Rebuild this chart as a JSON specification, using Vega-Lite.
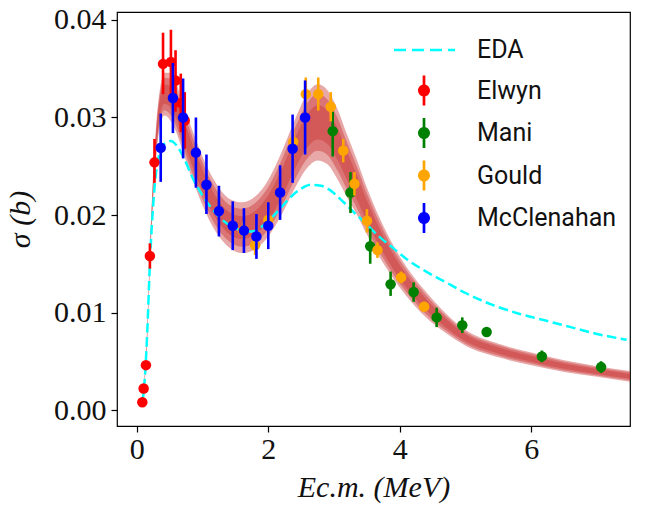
{
  "$schema": "https://vega.github.io/schema/vega-lite/v6.json",
  "width": 513,
  "height": 414,
  "autosize": {"type": "none"},
  "padding": {"left": 117, "top": 12, "right": 18, "bottom": 80},
  "background": "white",
  "config": {
    "view": {"stroke": "black", "strokeWidth": 1.2},
    "axis": {"domain": false, "grid": false, "tickColor": "black", "tickWidth": 1.2, "tickSize": 6, "labelFont": "Liberation Serif", "labelFontSize": 30, "labelColor": "#111", "titleFont": "Liberation Serif", "titleFontSize": 30, "titleFontStyle": "italic", "titleFontWeight": "normal", "titleColor": "#111"},
    "axisX": {"labelPadding": 2, "titlePadding": 8},
    "axisY": {"labelPadding": 5, "titlePadding": 18}
  },
  "datasets": {
    "band": [
      {"x": 0.08, "lo1": 0.0006, "hi1": 0.0011, "lo2": 0.00066, "hi2": 0.00104, "lo3": 0.00074, "hi3": 0.00096},
      {"x": 0.12, "lo1": 0.0026, "hi1": 0.0034, "lo2": 0.0027, "hi2": 0.0033, "lo3": 0.00282, "hi3": 0.00318},
      {"x": 0.16, "lo1": 0.0072, "hi1": 0.0086, "lo2": 0.00738, "hi2": 0.00843, "lo3": 0.00759, "hi3": 0.00822},
      {"x": 0.20, "lo1": 0.0146, "hi1": 0.0164, "lo2": 0.01483, "hi2": 0.01618, "lo3": 0.0151, "hi3": 0.0159},
      {"x": 0.25, "lo1": 0.0215, "hi1": 0.0243, "lo2": 0.02185, "hi2": 0.02395, "lo3": 0.02227, "hi3": 0.02353},
      {"x": 0.30, "lo1": 0.0262, "hi1": 0.0296, "lo2": 0.02663, "hi2": 0.02918, "lo3": 0.02714, "hi3": 0.02867},
      {"x": 0.35, "lo1": 0.0290, "hi1": 0.0328, "lo2": 0.02948, "hi2": 0.03233, "lo3": 0.03005, "hi3": 0.03176},
      {"x": 0.42, "lo1": 0.0302, "hi1": 0.0346, "lo2": 0.03075, "hi2": 0.03405, "lo3": 0.03141, "hi3": 0.03339},
      {"x": 0.50, "lo1": 0.0298, "hi1": 0.0346, "lo2": 0.0304, "hi2": 0.0340, "lo3": 0.03112, "hi3": 0.03328},
      {"x": 0.60, "lo1": 0.0285, "hi1": 0.0335, "lo2": 0.02913, "hi2": 0.03288, "lo3": 0.02988, "hi3": 0.03213},
      {"x": 0.70, "lo1": 0.0265, "hi1": 0.0315, "lo2": 0.02713, "hi2": 0.03088, "lo3": 0.02788, "hi3": 0.03013},
      {"x": 0.80, "lo1": 0.0245, "hi1": 0.0295, "lo2": 0.02513, "hi2": 0.02888, "lo3": 0.02588, "hi3": 0.02813},
      {"x": 0.90, "lo1": 0.0227, "hi1": 0.0277, "lo2": 0.02333, "hi2": 0.02708, "lo3": 0.02408, "hi3": 0.02633},
      {"x": 1.00, "lo1": 0.0210, "hi1": 0.0260, "lo2": 0.02163, "hi2": 0.02538, "lo3": 0.02238, "hi3": 0.02463},
      {"x": 1.20, "lo1": 0.0183, "hi1": 0.0233, "lo2": 0.01893, "hi2": 0.02268, "lo3": 0.01968, "hi3": 0.02193},
      {"x": 1.40, "lo1": 0.0167, "hi1": 0.0217, "lo2": 0.01733, "hi2": 0.02108, "lo3": 0.01808, "hi3": 0.02033},
      {"x": 1.60, "lo1": 0.0161, "hi1": 0.0213, "lo2": 0.01675, "hi2": 0.02065, "lo3": 0.01753, "hi3": 0.01987},
      {"x": 1.80, "lo1": 0.0165, "hi1": 0.0219, "lo2": 0.01718, "hi2": 0.02123, "lo3": 0.01799, "hi3": 0.02042},
      {"x": 2.00, "lo1": 0.0178, "hi1": 0.0236, "lo2": 0.01853, "hi2": 0.02288, "lo3": 0.0194, "hi3": 0.02201},
      {"x": 2.20, "lo1": 0.0200, "hi1": 0.0264, "lo2": 0.0208, "hi2": 0.0256, "lo3": 0.02176, "hi3": 0.02464},
      {"x": 2.40, "lo1": 0.0227, "hi1": 0.0297, "lo2": 0.02358, "hi2": 0.02883, "lo3": 0.02463, "hi3": 0.02778},
      {"x": 2.60, "lo1": 0.0249, "hi1": 0.0325, "lo2": 0.02585, "hi2": 0.03155, "lo3": 0.02699, "hi3": 0.03041},
      {"x": 2.75, "lo1": 0.0256, "hi1": 0.0334, "lo2": 0.02658, "hi2": 0.03243, "lo3": 0.02775, "hi3": 0.03126},
      {"x": 2.90, "lo1": 0.0252, "hi1": 0.0328, "lo2": 0.02615, "hi2": 0.03185, "lo3": 0.02729, "hi3": 0.03071},
      {"x": 3.05, "lo1": 0.0237, "hi1": 0.0309, "lo2": 0.0246, "hi2": 0.0300, "lo3": 0.02568, "hi3": 0.02892},
      {"x": 3.20, "lo1": 0.0218, "hi1": 0.0282, "lo2": 0.0226, "hi2": 0.0274, "lo3": 0.02356, "hi3": 0.02644},
      {"x": 3.35, "lo1": 0.0200, "hi1": 0.0256, "lo2": 0.0207, "hi2": 0.0249, "lo3": 0.02154, "hi3": 0.02406},
      {"x": 3.50, "lo1": 0.0180, "hi1": 0.0228, "lo2": 0.0186, "hi2": 0.0222, "lo3": 0.01932, "hi3": 0.02148},
      {"x": 3.70, "lo1": 0.0156, "hi1": 0.0196, "lo2": 0.0161, "hi2": 0.0191, "lo3": 0.0167, "hi3": 0.0185},
      {"x": 3.90, "lo1": 0.0135, "hi1": 0.0169, "lo2": 0.01393, "hi2": 0.01648, "lo3": 0.01444, "hi3": 0.01597},
      {"x": 4.10, "lo1": 0.0117, "hi1": 0.0147, "lo2": 0.01208, "hi2": 0.01433, "lo3": 0.01253, "hi3": 0.01388},
      {"x": 4.40, "lo1": 0.0095, "hi1": 0.0121, "lo2": 0.00983, "hi2": 0.01178, "lo3": 0.01022, "hi3": 0.01139},
      {"x": 4.70, "lo1": 0.0079, "hi1": 0.0099, "lo2": 0.00815, "hi2": 0.00965, "lo3": 0.00845, "hi3": 0.00935},
      {"x": 5.00, "lo1": 0.0066, "hi1": 0.0082, "lo2": 0.0068, "hi2": 0.0080, "lo3": 0.00704, "hi3": 0.00776},
      {"x": 5.50, "lo1": 0.0054, "hi1": 0.0068, "lo2": 0.00558, "hi2": 0.00663, "lo3": 0.00579, "hi3": 0.00642},
      {"x": 6.00, "lo1": 0.0046, "hi1": 0.0059, "lo2": 0.00476, "hi2": 0.00574, "lo3": 0.00496, "hi3": 0.00554},
      {"x": 6.50, "lo1": 0.0039, "hi1": 0.0051, "lo2": 0.00405, "hi2": 0.00495, "lo3": 0.00423, "hi3": 0.00477},
      {"x": 7.00, "lo1": 0.0034, "hi1": 0.0045, "lo2": 0.00354, "hi2": 0.00436, "lo3": 0.0037, "hi3": 0.0042},
      {"x": 7.50, "lo1": 0.0029, "hi1": 0.0040, "lo2": 0.00304, "hi2": 0.00386, "lo3": 0.0032, "hi3": 0.0037}
    ],
    "eda": [
      {"series": "EDA", "x": 0.08, "y": 0.0008},
      {"series": "EDA", "x": 0.10, "y": 0.0015},
      {"series": "EDA", "x": 0.13, "y": 0.0040},
      {"series": "EDA", "x": 0.16, "y": 0.0080},
      {"series": "EDA", "x": 0.20, "y": 0.0150},
      {"series": "EDA", "x": 0.25, "y": 0.0210},
      {"series": "EDA", "x": 0.30, "y": 0.0247},
      {"series": "EDA", "x": 0.35, "y": 0.0264},
      {"series": "EDA", "x": 0.42, "y": 0.0273},
      {"series": "EDA", "x": 0.52, "y": 0.0276},
      {"series": "EDA", "x": 0.62, "y": 0.0270},
      {"series": "EDA", "x": 0.72, "y": 0.0258},
      {"series": "EDA", "x": 0.85, "y": 0.0238},
      {"series": "EDA", "x": 1.00, "y": 0.0220},
      {"series": "EDA", "x": 1.15, "y": 0.0206},
      {"series": "EDA", "x": 1.30, "y": 0.0195},
      {"series": "EDA", "x": 1.45, "y": 0.0188},
      {"series": "EDA", "x": 1.60, "y": 0.0184},
      {"series": "EDA", "x": 1.75, "y": 0.0183},
      {"series": "EDA", "x": 1.90, "y": 0.0188},
      {"series": "EDA", "x": 2.05, "y": 0.0197},
      {"series": "EDA", "x": 2.20, "y": 0.0208},
      {"series": "EDA", "x": 2.35, "y": 0.0219},
      {"series": "EDA", "x": 2.50, "y": 0.0227},
      {"series": "EDA", "x": 2.65, "y": 0.0231},
      {"series": "EDA", "x": 2.80, "y": 0.0230},
      {"series": "EDA", "x": 2.95, "y": 0.0225},
      {"series": "EDA", "x": 3.10, "y": 0.0216},
      {"series": "EDA", "x": 3.30, "y": 0.0203},
      {"series": "EDA", "x": 3.50, "y": 0.0190},
      {"series": "EDA", "x": 3.70, "y": 0.0177},
      {"series": "EDA", "x": 3.90, "y": 0.0166},
      {"series": "EDA", "x": 4.10, "y": 0.0155},
      {"series": "EDA", "x": 4.40, "y": 0.0142},
      {"series": "EDA", "x": 4.70, "y": 0.0131},
      {"series": "EDA", "x": 5.00, "y": 0.0120},
      {"series": "EDA", "x": 5.40, "y": 0.0108},
      {"series": "EDA", "x": 5.80, "y": 0.0099},
      {"series": "EDA", "x": 6.20, "y": 0.0092},
      {"series": "EDA", "x": 6.60, "y": 0.0085},
      {"series": "EDA", "x": 7.00, "y": 0.0078},
      {"series": "EDA", "x": 7.45, "y": 0.0072}
    ],
    "pts": [
      {"series": "Elwyn", "x": 0.085, "y": 0.0008, "lo": 0.0007, "hi": 0.0009},
      {"series": "Elwyn", "x": 0.105, "y": 0.0022, "lo": 0.0021, "hi": 0.0023},
      {"series": "Elwyn", "x": 0.14, "y": 0.0046, "lo": 0.0044, "hi": 0.0048},
      {"series": "Elwyn", "x": 0.20, "y": 0.0158, "lo": 0.0145, "hi": 0.0171},
      {"series": "Elwyn", "x": 0.27, "y": 0.0254, "lo": 0.0233, "hi": 0.0278},
      {"series": "Elwyn", "x": 0.40, "y": 0.0355, "lo": 0.0324, "hi": 0.0387},
      {"series": "Elwyn", "x": 0.52, "y": 0.0357, "lo": 0.0324, "hi": 0.0390},
      {"series": "Elwyn", "x": 0.59, "y": 0.0338, "lo": 0.0306, "hi": 0.0369},
      {"series": "Elwyn", "x": 0.67, "y": 0.0315, "lo": 0.0285, "hi": 0.0345},
      {"series": "Elwyn", "x": 0.73, "y": 0.0297, "lo": 0.0268, "hi": 0.0326},
      {"series": "Mani", "x": 2.98, "y": 0.0286, "lo": 0.0260, "hi": 0.0306},
      {"series": "Mani", "x": 3.25, "y": 0.0223, "lo": 0.0202, "hi": 0.0244},
      {"series": "Mani", "x": 3.55, "y": 0.0168, "lo": 0.0150, "hi": 0.0186},
      {"series": "Mani", "x": 3.86, "y": 0.0129, "lo": 0.0117, "hi": 0.0142},
      {"series": "Mani", "x": 4.21, "y": 0.0121, "lo": 0.0111, "hi": 0.0131},
      {"series": "Mani", "x": 4.56, "y": 0.0095, "lo": 0.0085, "hi": 0.0105},
      {"series": "Mani", "x": 4.95, "y": 0.0087, "lo": 0.0079, "hi": 0.0095},
      {"series": "Mani", "x": 5.32, "y": 0.0080, "lo": 0.0075, "hi": 0.0085},
      {"series": "Mani", "x": 6.16, "y": 0.0055, "lo": 0.0049, "hi": 0.0061},
      {"series": "Mani", "x": 7.06, "y": 0.0044, "lo": 0.0038, "hi": 0.0050},
      {"series": "Gould", "x": 1.62, "y": 0.0184, "lo": 0.0175, "hi": 0.0193},
      {"series": "Gould", "x": 1.80, "y": 0.0169, "lo": 0.0159, "hi": 0.0179},
      {"series": "Gould", "x": 2.00, "y": 0.0195, "lo": 0.0185, "hi": 0.0205},
      {"series": "Gould", "x": 2.38, "y": 0.0275, "lo": 0.0262, "hi": 0.0288},
      {"series": "Gould", "x": 2.57, "y": 0.0324, "lo": 0.0307, "hi": 0.0341},
      {"series": "Gould", "x": 2.76, "y": 0.0324, "lo": 0.0307, "hi": 0.0341},
      {"series": "Gould", "x": 2.95, "y": 0.0311, "lo": 0.0296, "hi": 0.0326},
      {"series": "Gould", "x": 3.14, "y": 0.0266, "lo": 0.0254, "hi": 0.0278},
      {"series": "Gould", "x": 3.31, "y": 0.0232, "lo": 0.0220, "hi": 0.0244},
      {"series": "Gould", "x": 3.50, "y": 0.0194, "lo": 0.0182, "hi": 0.0206},
      {"series": "Gould", "x": 3.66, "y": 0.0164, "lo": 0.0156, "hi": 0.0172},
      {"series": "Gould", "x": 4.02, "y": 0.0136, "lo": 0.0130, "hi": 0.0142},
      {"series": "Gould", "x": 4.37, "y": 0.0106, "lo": 0.0101, "hi": 0.0111},
      {"series": "McClenahan", "x": 0.365, "y": 0.0269, "lo": 0.0234, "hi": 0.0304},
      {"series": "McClenahan", "x": 0.55, "y": 0.0320, "lo": 0.0284, "hi": 0.0356},
      {"series": "McClenahan", "x": 0.705, "y": 0.0300, "lo": 0.0258, "hi": 0.0340},
      {"series": "McClenahan", "x": 0.90, "y": 0.0264, "lo": 0.0228, "hi": 0.0300},
      {"series": "McClenahan", "x": 1.06, "y": 0.0231, "lo": 0.0201, "hi": 0.0262},
      {"series": "McClenahan", "x": 1.25, "y": 0.0204, "lo": 0.0178, "hi": 0.0230},
      {"series": "McClenahan", "x": 1.46, "y": 0.0189, "lo": 0.0164, "hi": 0.0214},
      {"series": "McClenahan", "x": 1.63, "y": 0.0184, "lo": 0.0161, "hi": 0.0207},
      {"series": "McClenahan", "x": 1.82, "y": 0.0178, "lo": 0.0155, "hi": 0.0201},
      {"series": "McClenahan", "x": 2.00, "y": 0.0189, "lo": 0.0165, "hi": 0.0213},
      {"series": "McClenahan", "x": 2.18, "y": 0.0223, "lo": 0.0195, "hi": 0.0251},
      {"series": "McClenahan", "x": 2.37, "y": 0.0268, "lo": 0.0233, "hi": 0.0303},
      {"series": "McClenahan", "x": 2.56, "y": 0.0300, "lo": 0.0262, "hi": 0.0338}
    ]
  },
  "encoding": {
    "x": {"field": "x", "type": "quantitative", "title": "Ec.m. (MeV)", "scale": {"domain": [-0.3, 7.5], "nice": false, "zero": false}, "axis": {"values": [0, 2, 4, 6], "format": "d"}}
  },
  "layer": [
    {
      "data": {"name": "band"},
      "mark": {"type": "area", "color": "#c83030", "opacity": 0.42, "interpolate": "monotone"},
      "encoding": {
        "y": {"field": "lo1", "type": "quantitative", "title": "σ (b)", "scale": {"domain": [-0.00164, 0.04082], "nice": false, "zero": false}, "axis": {"values": [0, 0.01, 0.02, 0.03, 0.04], "format": ".2f"}},
        "y2": {"field": "hi1"}
      }
    },
    {
      "data": {"name": "band"},
      "mark": {"type": "area", "color": "#c83030", "opacity": 0.42, "interpolate": "monotone"},
      "encoding": {"y": {"field": "lo2", "type": "quantitative", "title": "σ (b)"}, "y2": {"field": "hi2"}}
    },
    {
      "data": {"name": "band"},
      "mark": {"type": "area", "color": "#c83030", "opacity": 0.42, "interpolate": "monotone"},
      "encoding": {"y": {"field": "lo3", "type": "quantitative", "title": "σ (b)"}, "y2": {"field": "hi3"}}
    },
    {
      "data": {"name": "eda"},
      "mark": {"type": "line", "strokeWidth": 2.5, "strokeDash": [9.5, 4.5], "interpolate": "monotone"},
      "encoding": {
        "y": {"field": "y", "type": "quantitative", "title": "σ (b)"},
        "color": {
          "field": "series", "type": "nominal",
          "scale": {"domain": ["EDA", "Elwyn", "Mani", "Gould", "McClenahan"], "range": ["#00ffff", "#ff0000", "#008000", "#ffa500", "#0000ff"]},
          "legend": {
            "title": null, "orient": "none", "legendX": 292, "legendY": 23, "padding": 0,
            "symbolSize": 900, "symbolStrokeWidth": 0, "rowPadding": 12.5, "labelOffset": 38,
            "labelFont": "Roboto", "labelFontSize": 25, "labelColor": "#111", "labelLimit": 300, "symbolOpacity": 1,
            "encode": {
              "symbols": {
                "update": {
                  "shape": {"signal": "datum.value === 'EDA' ? 'M-2,-0.085L-1.2,-0.085L-1.2,0.085L-2,0.085Z M-0.8,-0.085L0,-0.085L0,0.085L-0.8,0.085Z M0.4,-0.085L1.2,-0.085L1.2,0.085L0.4,0.085Z M1.6,-0.085L2.07,-0.085L2.07,0.085L1.6,0.085Z' : 'M0,-0.4C0.2209,-0.4,0.4,-0.2209,0.4,0C0.4,0.2209,0.2209,0.4,0,0.4C-0.2209,0.4,-0.4,0.2209,-0.4,0C-0.4,-0.2209,-0.2209,-0.4,0,-0.4Z M-0.09,-1L0.09,-1L0.09,1L-0.09,1Z'"},
                  "fill": {"scale": "color", "field": "value"},
                  "strokeWidth": {"value": 0},
                  "opacity": {"value": 1},
                  "size": {"value": 900}
                }
              }
            }
          }
        }
      }
    },
    {
      "data": {"name": "pts"}, "transform": [{"filter": "datum.series === 'Elwyn'"}],
      "mark": {"type": "rule", "strokeWidth": 2.6},
      "encoding": {"y": {"field": "lo", "type": "quantitative", "title": "σ (b)"}, "y2": {"field": "hi"}, "color": {"field": "series", "type": "nominal"}}
    },
    {
      "data": {"name": "pts"}, "transform": [{"filter": "datum.series === 'Elwyn'"}],
      "mark": {"type": "circle", "size": 110, "opacity": 1},
      "encoding": {"y": {"field": "y", "type": "quantitative", "title": "σ (b)"}, "color": {"field": "series", "type": "nominal"}}
    },
    {
      "data": {"name": "pts"}, "transform": [{"filter": "datum.series === 'Mani'"}],
      "mark": {"type": "rule", "strokeWidth": 2.6},
      "encoding": {"y": {"field": "lo", "type": "quantitative", "title": "σ (b)"}, "y2": {"field": "hi"}, "color": {"field": "series", "type": "nominal"}}
    },
    {
      "data": {"name": "pts"}, "transform": [{"filter": "datum.series === 'Mani'"}],
      "mark": {"type": "circle", "size": 110, "opacity": 1},
      "encoding": {"y": {"field": "y", "type": "quantitative", "title": "σ (b)"}, "color": {"field": "series", "type": "nominal"}}
    },
    {
      "data": {"name": "pts"}, "transform": [{"filter": "datum.series === 'Gould'"}],
      "mark": {"type": "rule", "strokeWidth": 2.6},
      "encoding": {"y": {"field": "lo", "type": "quantitative", "title": "σ (b)"}, "y2": {"field": "hi"}, "color": {"field": "series", "type": "nominal"}}
    },
    {
      "data": {"name": "pts"}, "transform": [{"filter": "datum.series === 'Gould'"}],
      "mark": {"type": "circle", "size": 110, "opacity": 1},
      "encoding": {"y": {"field": "y", "type": "quantitative", "title": "σ (b)"}, "color": {"field": "series", "type": "nominal"}}
    },
    {
      "data": {"name": "pts"}, "transform": [{"filter": "datum.series === 'McClenahan'"}],
      "mark": {"type": "rule", "strokeWidth": 2.6},
      "encoding": {"y": {"field": "lo", "type": "quantitative", "title": "σ (b)"}, "y2": {"field": "hi"}, "color": {"field": "series", "type": "nominal"}}
    },
    {
      "data": {"name": "pts"}, "transform": [{"filter": "datum.series === 'McClenahan'"}],
      "mark": {"type": "circle", "size": 110, "opacity": 1},
      "encoding": {"y": {"field": "y", "type": "quantitative", "title": "σ (b)"}, "color": {"field": "series", "type": "nominal"}}
    }
  ]
}
